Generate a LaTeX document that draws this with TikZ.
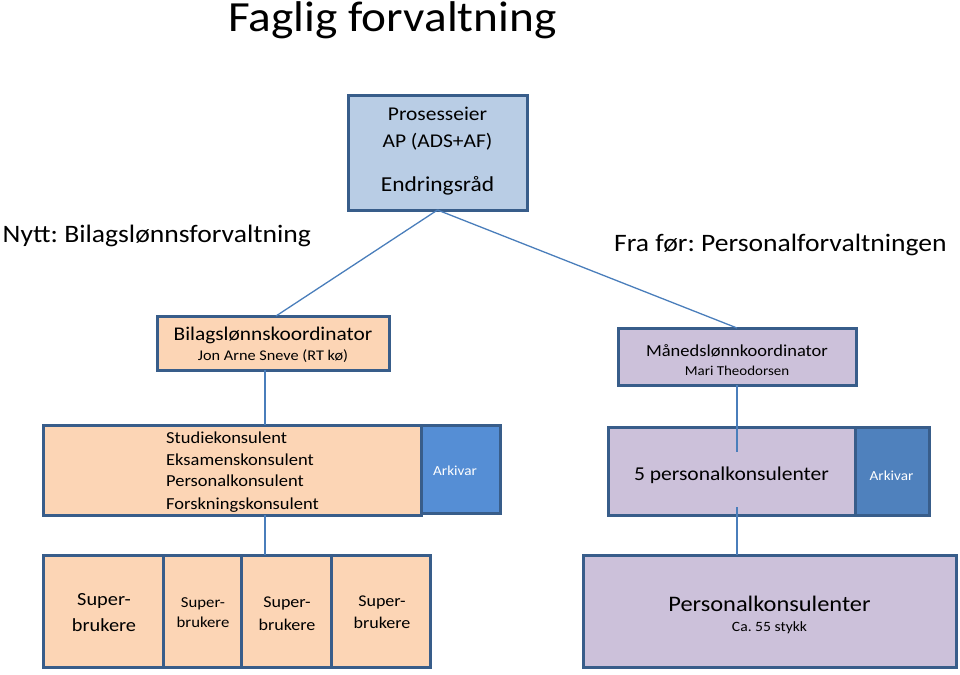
\documentclass[tikz,border=0pt]{standalone}
\usepackage{fontspec}
\setmainfont{Carlito}[FakeStretch=1.1]
\frenchspacing
\newlength{\du}
\setlength{\du}{1pt}
\definecolor{boxline}{RGB}{56,93,138}
\definecolor{linkline}{RGB}{74,126,187}
\definecolor{topfill}{RGB}{185,205,229}
\definecolor{peach}{RGB}{252,213,181}
\definecolor{lilac}{RGB}{204,193,218}
\definecolor{arkivlys}{RGB}{85,142,213}
\definecolor{arkivmork}{RGB}{79,129,189}
\tikzset{
  orgbox/.style={draw=boxline, line width=3\du, inner sep=0pt, outer sep=0pt},
  link/.style={draw=linkline, line width=1.3\du},
  txt/.style={anchor=base, inner sep=0pt, text=black},
}
\newcommand{\fs}[1]{\fontsize{#1}{#1}\selectfont}

\begin{document}
\begin{tikzpicture}
\pgftransformxscale{1.000000}
\pgftransformyscale{-1.000000}
\useasboundingbox (0\du,0\du) rectangle (960\du,674\du);
% titles
\node[txt] (tittel) at (392.5\du,32\du){\fs{43}Faglig forvaltning};
\node[txt, anchor=base west] (nytt) at (2.5\du,242\du){\fs{25.1}Nytt: Bilagslønnsforvaltning};
\node[txt, anchor=base west] (frafor) at (614\du,251.7\du){\fs{25.1}Fra før: Personalforvaltningen};
% prosesseier
\node[orgbox, fill=topfill, minimum width=179\du, minimum height=114\du] (prosess) at (437.5\du,153\du){};
\node[txt] (prosesseier) at (437.5\du,120.7\du){\fs{19.5}Prosesseier};
\node[txt] (apads) at (437.5\du,147.3\du){\fs{19.5}AP (ADS+AF)};
\node[txt] (endringsrad) at (437.5\du,191.7\du){\fs{21.3}Endringsråd};
% koordinatorer
\node[orgbox, fill=peach, minimum width=232\du, minimum height=54\du] (bilag) at (273\du,343\du){};
\node[txt] (bilagtxt) at (273\du,340\du){\fs{19.4}Bilagslønnskoordinator};
\node[txt] (jonarne) at (273\du,360\du){\fs{14.8}Jon Arne Sneve (RT kø)};
\node[orgbox, fill=lilac, minimum width=238\du, minimum height=57\du] (maaned) at (737\du,356.5\du){};
\node[txt] (maanedtxt) at (737\du,356\du){\fs{16.8}Månedslønnkoordinator};
\node[txt] (mari) at (737\du,375\du){\fs{13.6}Mari Theodorsen};
% konsulenter
\node[orgbox, fill=peach, minimum width=378\du, minimum height=90\du] (studie) at (232\du,470\du){};
\node[txt, anchor=base west] (studiek) at (166\du,443.3\du){\fs{16.8}Studiekonsulent};
\node[txt, anchor=base west] (eksamensk) at (166\du,465\du){\fs{16.8}Eksamenskonsulent};
\node[txt, anchor=base west] (personalk) at (166\du,486.7\du){\fs{16.8}Personalkonsulent};
\node[txt, anchor=base west] (forskningsk) at (166\du,509\du){\fs{16.8}Forskningskonsulent};
\node[orgbox, fill=arkivlys, minimum width=79\du, minimum height=88\du] (arkivv) at (460.5\du,469\du){};
\node[txt, text=white] (arkivvtxt) at (455\du,475\du){\fs{13.8}Arkivar};
\node[orgbox, fill=lilac, minimum width=247\du, minimum height=88\du] (fem) at (731.5\du,471\du){};
\node[txt] (femtxt) at (731.5\du,480\du){\fs{19.6}5 personalkonsulenter};
\node[orgbox, fill=arkivmork, minimum width=74\du, minimum height=88\du] (arkivh) at (892\du,471\du){};
\node[txt, text=white] (arkivhtxt) at (891.5\du,480\du){\fs{13.8}Arkivar};
% superbrukere
\node[orgbox, fill=peach, minimum width=120\du, minimum height=112\du] (super1) at (103\du,611\du){};
\node[txt] (super1a) at (104\du,605\du){\fs{18.5}Super-};
\node[txt] (super1b) at (104\du,631.7\du){\fs{18.5}brukere};
\node[orgbox, fill=peach, minimum width=78\du, minimum height=112\du] (super2) at (202\du,611\du){};
\node[txt] (super2a) at (203\du,607\du){\fs{15.2}Super-};
\node[txt] (super2b) at (203\du,627\du){\fs{15.2}brukere};
\node[orgbox, fill=peach, minimum width=90\du, minimum height=112\du] (super3) at (286\du,611\du){};
\node[txt] (super3a) at (287\du,607\du){\fs{16.4}Super-};
\node[txt] (super3b) at (287\du,630\du){\fs{16.4}brukere};
\node[orgbox, fill=peach, minimum width=99\du, minimum height=112\du] (super4) at (380.5\du,611\du){};
\node[txt] (super4a) at (382\du,606.7\du){\fs{16.4}Super-};
\node[txt] (super4b) at (382\du,628\du){\fs{16.4}brukere};
\node[orgbox, fill=lilac, minimum width=373\du, minimum height=112\du] (personal) at (769.5\du,611\du){};
\node[txt] (personaltxt) at (769.5\du,611.7\du){\fs{22.2}Personalkonsulenter};
\node[txt] (ca55) at (769.5\du,631.7\du){\fs{14.2}Ca. 55 stykk};
% connectors
\coordinate (venstreakse) at (265\du,0\du);
\coordinate (femtopp) at (737\du,452\du);
\coordinate (fembunn) at (737\du,507\du);
\draw[link] (prosess.south) -- ([xshift=3\du]bilag.north);
\draw[link] (prosess.south) -- (maaned.north);
\draw[link] (bilag.south -| venstreakse) -- (studie.north -| venstreakse);
\draw[link] (studie.south -| venstreakse) -- (super3.north -| venstreakse);
\draw[link] (maaned.south) -- (femtopp);
\draw[link] (fembunn) -- (fembunn |- personal.north);
\end{tikzpicture}
\end{document}
